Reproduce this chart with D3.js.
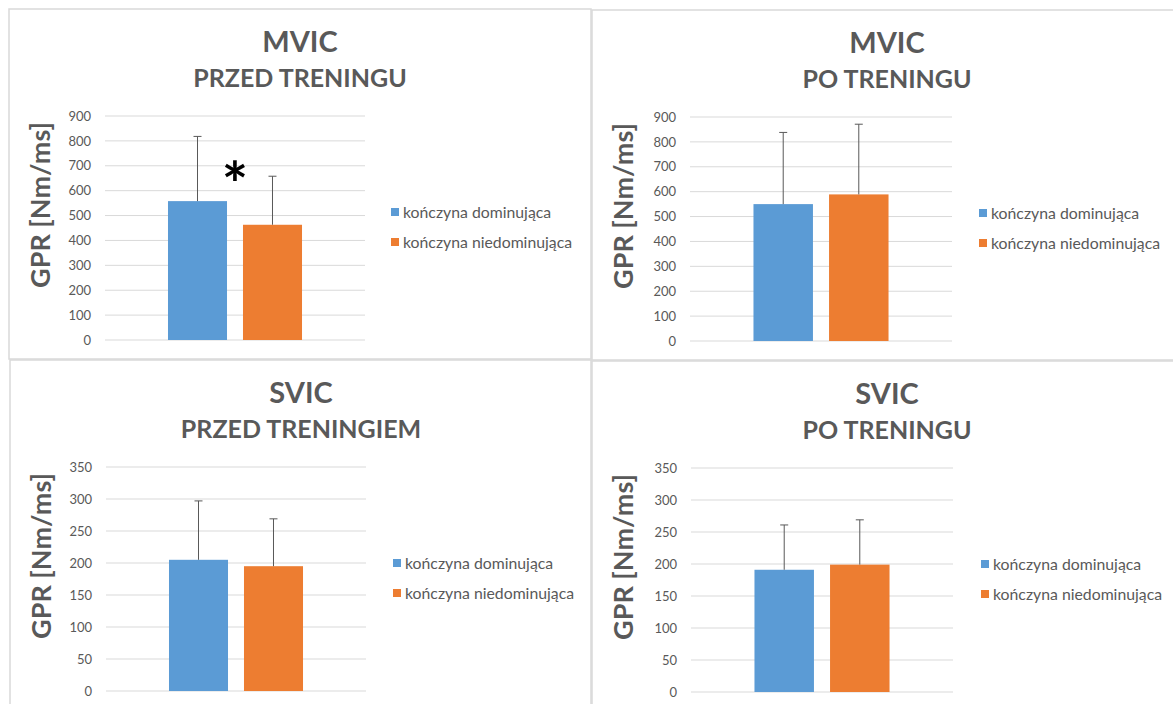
<!DOCTYPE html>
<html>
<head>
<meta charset="utf-8">
<script src="https://cdn.jsdelivr.net/npm/d3@7"></script>
<style>
  html, body { margin: 0; padding: 0; background: #fff; }
  svg { display: block; }
  text { font-family: Lato, "Open Sans", sans-serif; }
</style>
</head>
<body>
<svg id="chart" width="1173" height="704"></svg>
<script>
// ---------- data ----------
const series = ["kończyna dominująca", "kończyna niedominująca"];
const seriesColors = ["#5B9BD5", "#ED7D31"];

const mvicTicks = [0, 100, 200, 300, 400, 500, 600, 700, 800, 900];
const svicTicks = [0, 50, 100, 150, 200, 250, 300, 350];

const mvicPrzedValues = [558, 463];
const mvicPrzedErrors = [260, 195];
const mvicPoValues = [550, 589];
const mvicPoErrors = [288, 282];
const svicPrzedValues = [205, 195];
const svicPrzedErrors = [92, 74];
const svicPoValues = [191, 199];
const svicPoErrors = [70, 70];

const panelTitles = ["MVIC", "MVIC", "SVIC", "SVIC"];
const panelSubtitles = ["PRZED TRENINGU", "PO TRENINGU", "PRZED TRENINGIEM", "PO TRENINGU"];
const yAxisTitle = "GPR [Nm/ms]";
const significanceMark = "*";
const significanceLevel = 680; // y value where the asterisk sits (panel 1)

// ---------- layout ----------
const svg = d3.select("#chart");
svg.append("rect").attr("width", 1173).attr("height", 704).attr("fill", "#fff");

const panels = [
  { x: 9,   y: 9,   w: 582, h: 350, title: panelTitles[0], sub: panelSubtitles[0], values: mvicPrzedValues, errors: mvicPrzedErrors, ticks: mvicTicks, plotX: [96, 356], legendX: 382, star: true },
  { x: 592, y: 10,  w: 600, h: 350, title: panelTitles[1], sub: panelSubtitles[1], values: mvicPoValues, errors: mvicPoErrors, ticks: mvicTicks, plotX: [98, 360], legendX: 387, star: false },
  { x: 10,  y: 360, w: 581, h: 400, title: panelTitles[2], sub: panelSubtitles[2], values: svicPrzedValues, errors: svicPrzedErrors, ticks: svicTicks, plotX: [96, 356], legendX: 383, star: false },
  { x: 592, y: 361, w: 600, h: 400, title: panelTitles[3], sub: panelSubtitles[3], values: svicPoValues, errors: svicPoErrors, ticks: svicTicks, plotX: [99, 361], legendX: 389, star: false }
];
const titleCenters = [291, 295, 291, 295];

panels.forEach((p, i) => {
  const g = svg.append("g").attr("transform", `translate(${p.x},${p.y})`);

  // border
  g.append("rect")
    .attr("x", 0).attr("y", 0).attr("width", p.w).attr("height", p.h)
    .attr("fill", "none").attr("stroke", "#D9D9D9").attr("stroke-width", 1.5);

  // titles
  g.append("text").attr("x", titleCenters[i]).attr("y", 43)
    .attr("text-anchor", "middle").attr("font-size", 29).attr("font-weight", "bold")
    .attr("fill", "#595959").text(p.title);
  g.append("text").attr("x", titleCenters[i]).attr("y", 78)
    .attr("text-anchor", "middle").attr("font-size", 25).attr("font-weight", "bold")
    .attr("fill", "#595959").text(p.sub);

  // scales
  const y = d3.scaleLinear().domain([0, d3.max(p.ticks)]).range([331, 107]);
  const x0 = d3.scaleBand().domain(["group"]).range(p.plotX).paddingInner(0).paddingOuter(0.47);
  const x1 = d3.scaleBand().domain(series).range([0, x0.bandwidth()]).paddingInner(0.213).paddingOuter(0);

  // gridlines
  g.append("g").selectAll("line").data(p.ticks).join("line")
    .attr("x1", p.plotX[0]).attr("x2", p.plotX[1])
    .attr("y1", d => y(d)).attr("y2", d => y(d))
    .attr("stroke", "#D9D9D9").attr("stroke-width", 1);

  // y axis labels
  const yAxis = d3.axisLeft(y).tickValues(p.ticks).tickSize(0).tickPadding(14);
  const ax = g.append("g").attr("transform", `translate(${p.plotX[0]},0)`).call(yAxis);
  ax.select(".domain").remove();
  ax.selectAll("text").attr("font-size", 13).attr("fill", "#595959")
    .attr("font-family", "Lato, 'Open Sans', sans-serif");

  // y axis title
  g.append("text")
    .attr("transform", `translate(41,196) rotate(-90)`)
    .attr("text-anchor", "middle").attr("font-size", 27).attr("font-weight", "bold")
    .attr("fill", "#595959").text(yAxisTitle);

  // bars
  const data = series.map((s, k) => ({ s, v: p.values[k], e: p.errors[k], c: seriesColors[k] }));
  const bx = d => x0("group") + x1(d.s);
  g.append("g").selectAll("rect").data(data).join("rect")
    .attr("x", bx).attr("width", x1.bandwidth())
    .attr("y", d => y(d.v)).attr("height", d => y(0) - y(d.v))
    .attr("fill", d => d.c);

  // error bars (plus only)
  const eg = g.append("g").attr("stroke", "#595959").attr("stroke-width", 1);
  eg.selectAll("line.v").data(data).join("line").attr("class", "v")
    .attr("x1", d => bx(d) + x1.bandwidth() / 2).attr("x2", d => bx(d) + x1.bandwidth() / 2)
    .attr("y1", d => y(d.v)).attr("y2", d => y(d.v + d.e));
  eg.selectAll("line.c").data(data).join("line").attr("class", "c")
    .attr("x1", d => bx(d) + x1.bandwidth() / 2 - 4).attr("x2", d => bx(d) + x1.bandwidth() / 2 + 4)
    .attr("y1", d => y(d.v + d.e)).attr("y2", d => y(d.v + d.e));

  // significance asterisk
  if (p.star) {
    g.append("text")
      .attr("x", x0("group") + x0.bandwidth() / 2)
      .attr("y", y(significanceLevel))
      .attr("dy", "0.58em")
      .attr("text-anchor", "middle")
      .attr("font-family", "'DejaVu Sans', sans-serif")
      .attr("font-size", 62).attr("font-weight", "bold").attr("fill", "#000")
      .text(significanceMark);
  }

  // legend
  const lg = g.append("g").selectAll("g").data(data).join("g")
    .attr("transform", (d, k) => `translate(${p.legendX},${203 + k * 30})`);
  lg.append("rect").attr("x", 0).attr("y", -4).attr("width", 8).attr("height", 8).attr("fill", d => d.c);
  lg.append("text").attr("x", 12).attr("y", 0).attr("dy", "0.35em")
    .attr("font-size", 15.8).attr("fill", "#595959").text(d => d.s);
});
</script>
</body>
</html>
